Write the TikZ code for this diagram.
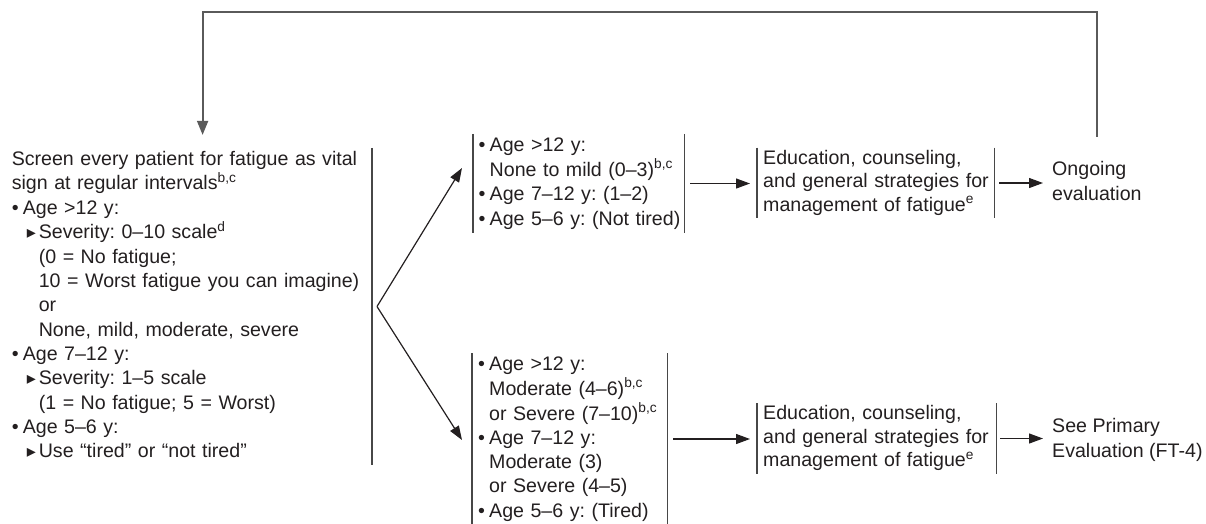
\documentclass[tikz,border=0pt]{standalone}
\usepackage{fontspec}
\setmainfont{Liberation Sans}
\newfontfamily\symfont{DejaVu Sans}
\usetikzlibrary{arrows.meta}
\definecolor{ink}{HTML}{231F20}
\definecolor{barc}{HTML}{474747}
\definecolor{loopc}{HTML}{5A5A5A}
\newcommand\bu{\makebox[11pt][l]{•}}
\newcommand\bi{\hspace*{11pt}}
\newcommand\tri{\hspace*{15pt}\makebox[12pt][l]{\raisebox{0.5pt}{\symfont\fontsize{18}{18}\selectfont ▸}}}
\newcommand\ind{\hspace*{27pt}}
\newcommand\lines[1]{\begin{tabular}{@{}l@{}}#1\end{tabular}}
\begin{document}
\begin{tikzpicture}[x=1pt,y=-1pt,
  txt/.style={inner sep=0pt, align=left, text=ink, font=\fontsize{19.6}{24.3}\selectfont\frenchspacing},
  midtxt/.style={txt, font=\fontsize{19.6}{24.6}\selectfont\frenchspacing},
  edutxt/.style={txt, font=\fontsize{19.6}{23.5}\selectfont\frenchspacing},
  bar/.style={draw=barc, line width=1.4pt},
  arr/.style={draw=ink, line width=1.2pt, -{Triangle[length=14pt,width=10pt]}},
  fb/.style={draw=loopc, line width=1.8pt, line join=miter, -{Triangle[length=14pt,width=11pt]}}]
\useasboundingbox (0,0) rectangle (1206,523);

% left screening block
\node[txt, anchor=east, text width=360pt, minimum height=313pt] (screen) at (372,306.5)
 {\lines{Screen every patient for fatigue as vital\\
  sign at regular intervals\textsuperscript{b,c}\\
  \bu Age >12 y:\\
  \tri Severity: 0–10 scale\textsuperscript{d}\\
  \ind(0 = No fatigue;\\
  \ind 10 = Worst fatigue you can imagine)\\
  \ind or\\
  \ind None, mild, moderate, severe\\
  \bu Age 7–12 y:\\
  \tri Severity: 1–5 scale\\
  \ind(1 = No fatigue; 5 = Worst)\\
  \bu Age 5–6 y:\\
  \tri Use “tired” or “not tired”}};

% middle boxes
\node[midtxt, anchor=west, inner xsep=5.5pt, text width=200pt, minimum height=93pt] (mtop) at (473,183.5)
 {\lines{\bu Age >12 y:\\
  \bi None to mild (0–3)\textsuperscript{b,c}\\
  \bu Age 7–12 y: (1–2)\\
  \bu Age 5–6 y: (Not tired)}};
\node[txt, anchor=west, inner xsep=6pt, text width=183pt, minimum height=168pt] (mbot) at (472,439)
 {\lines{\bu Age >12 y:\\
  \bi Moderate (4–6)\textsuperscript{b,c}\\
  \bi or Severe (7–10)\textsuperscript{b,c}\\
  \bu Age 7–12 y:\\
  \bi Moderate (3)\\
  \bi or Severe (4–5)\\
  \bu Age 5–6 y: (Tired)}};

% education boxes
\node[edutxt, anchor=west, inner xsep=6pt, text width=225pt, minimum height=66pt] (edu1) at (757,183)
 {\lines{Education, counseling,\\ and general strategies for\\ management of fatigue\textsuperscript{e}}};
\node[edutxt, anchor=west, inner xsep=6pt, text width=227pt, minimum height=63pt] (edu2) at (757,438.5)
 {\lines{Education, counseling,\\ and general strategies for\\ management of fatigue\textsuperscript{e}}};

% outcomes
\node[txt, anchor=west] (ongo) at (1052,183) {\lines{Ongoing\\ evaluation}};
\node[txt, anchor=west] (see) at (1052,440) {\lines{See Primary\\ Evaluation (FT-4)}};

% bars
\draw[bar] (screen.north east) -- (screen.south east);
\draw[bar] (mtop.north west) -- (mtop.south west);
\draw[bar] (mtop.north east) -- (mtop.south east);
\draw[bar] (mbot.north west) -- (mbot.south west);
\draw[bar] (mbot.north east) -- (mbot.south east);
\draw[bar] (edu1.north west) -- (edu1.south west);
\draw[bar] (edu1.north east) -- (edu1.south east);
\draw[bar] (edu2.north west) -- (edu2.south west);
\draw[bar] (edu2.north east) -- (edu2.south east);

% split arrows
\coordinate (split) at ([xshift=5pt]screen.east);
\coordinate (uptip) at ([shift={(-11,-15.5)}]mtop.west);
\coordinate (downtip) at ([shift={(-10,1)}]mbot.west);
\draw[arr] (split) -- (uptip);
\draw[arr] (split) -- (downtip);

% horizontal arrows
\draw[arr, shorten <=6pt, shorten >=7pt] (mtop.east) -- (mtop.east -| edu1.west);
\draw[arr, shorten <=6pt, shorten >=7pt] (mbot.east) -- (mbot.east -| edu2.west);
\draw[arr, shorten <=5pt, shorten >=9pt] (edu1.east) -- (edu1.east -| ongo.west);
\draw[arr, shorten <=4pt, shorten >=9pt] (edu2.east) -- (edu2.east -| see.west);

% feedback loop
\coordinate (toprow) at (0,12);
\coordinate (loopin) at ([shift={(191,-13)}]screen.north west);
\draw[fb] ([yshift=22pt]ongo.north) -- (ongo.north |- toprow) -- (loopin |- toprow) -- (loopin);
\end{tikzpicture}
\end{document}
